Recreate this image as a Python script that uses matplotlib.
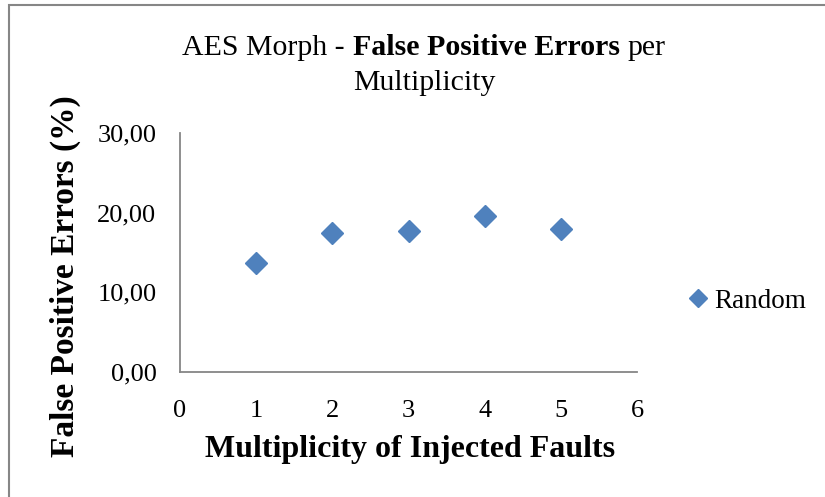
import matplotlib
matplotlib.use('Agg')
import matplotlib.pyplot as plt
import matplotlib.patches as patches

multiplicity = [1, 2, 3, 4, 5]
fp_errors = [13.7, 17.5, 17.7, 19.6, 18.0]
x_ticks = [0, 1, 2, 3, 4, 5, 6]
y_ticks = [0, 10, 20, 30]
y_tick_labels = ['0,00', '10,00', '20,00', '30,00']
series_name = 'Random'

W, H = 825, 497
plt.rcParams['font.family'] = ['Liberation Serif', 'DejaVu Serif']

fig = plt.figure(figsize=(W / 100, H / 100), dpi=100)
ax = fig.add_axes([180 / W, 1 - 372 / H, (637 - 180) / W, (372 - 133) / H])

ax.plot(multiplicity, fp_errors, linestyle='none', marker='D', ms=11.5,
        color='#4F81BD', mec='#4F81BD', label=series_name)

ax.set_xlim(0, 6)
ax.set_ylim(0, 30)
ax.set_xticks(x_ticks)
ax.set_yticks(y_ticks)
ax.set_yticklabels(y_tick_labels)
for s in ['top', 'right']:
    ax.spines[s].set_visible(False)
for s in ['left', 'bottom']:
    ax.spines[s].set_color('#868686')
    ax.spines[s].set_linewidth(1.3)
ax.tick_params(axis='both', length=0, labelsize=19)
ax.tick_params(axis='y', pad=17)
ax.tick_params(axis='x', pad=20)

# axis titles
fig.text(65 / W, 1 - 276 / H, 'False Positive Errors (%)', rotation=90,
         fontsize=24, fontweight='bold', ha='center', va='center')
fig.text(410 / W, 1 - 450 / H, 'Multiplicity of Injected Faults',
         fontsize=23, fontweight='bold', ha='center', va='center')

# title with mixed weights
fig.canvas.draw()
r = fig.canvas.get_renderer()
gap = 8


def rich_line(parts, y_base, cx):
    texts = [fig.text(0, 1 - y_base / H, s, fontsize=21.5, fontweight=w, va='baseline')
             for s, w in parts]
    widths = [t.get_window_extent(r).width for t in texts]
    x = cx - (sum(widths) + gap * (len(widths) - 1)) / 2
    for t, w in zip(texts, widths):
        t.set_x(x / W)
        x += w + gap


rich_line([('AES Morph -', 'normal'), ('False Positive Errors', 'bold'), ('per', 'normal')], 55, 424)
rich_line([('Multiplicity', 'normal')], 90, 424)

ax.legend(loc='center left', bbox_to_anchor=(684.5 / W, 1 - 301 / H),
          bbox_transform=fig.transFigure, frameon=False, fontsize=19.5,
          markerscale=0.8, handlelength=1, handletextpad=0.1,
          borderpad=0, borderaxespad=0)

# outer chart border
fig.patches.append(patches.Rectangle((8.5 / W, -0.1), 1.2, 1.1 - 4.5 / H,
                                     transform=fig.transFigure, fill=False,
                                     edgecolor='#868686', linewidth=1.5))

fig.savefig('out.png', dpi=100)
